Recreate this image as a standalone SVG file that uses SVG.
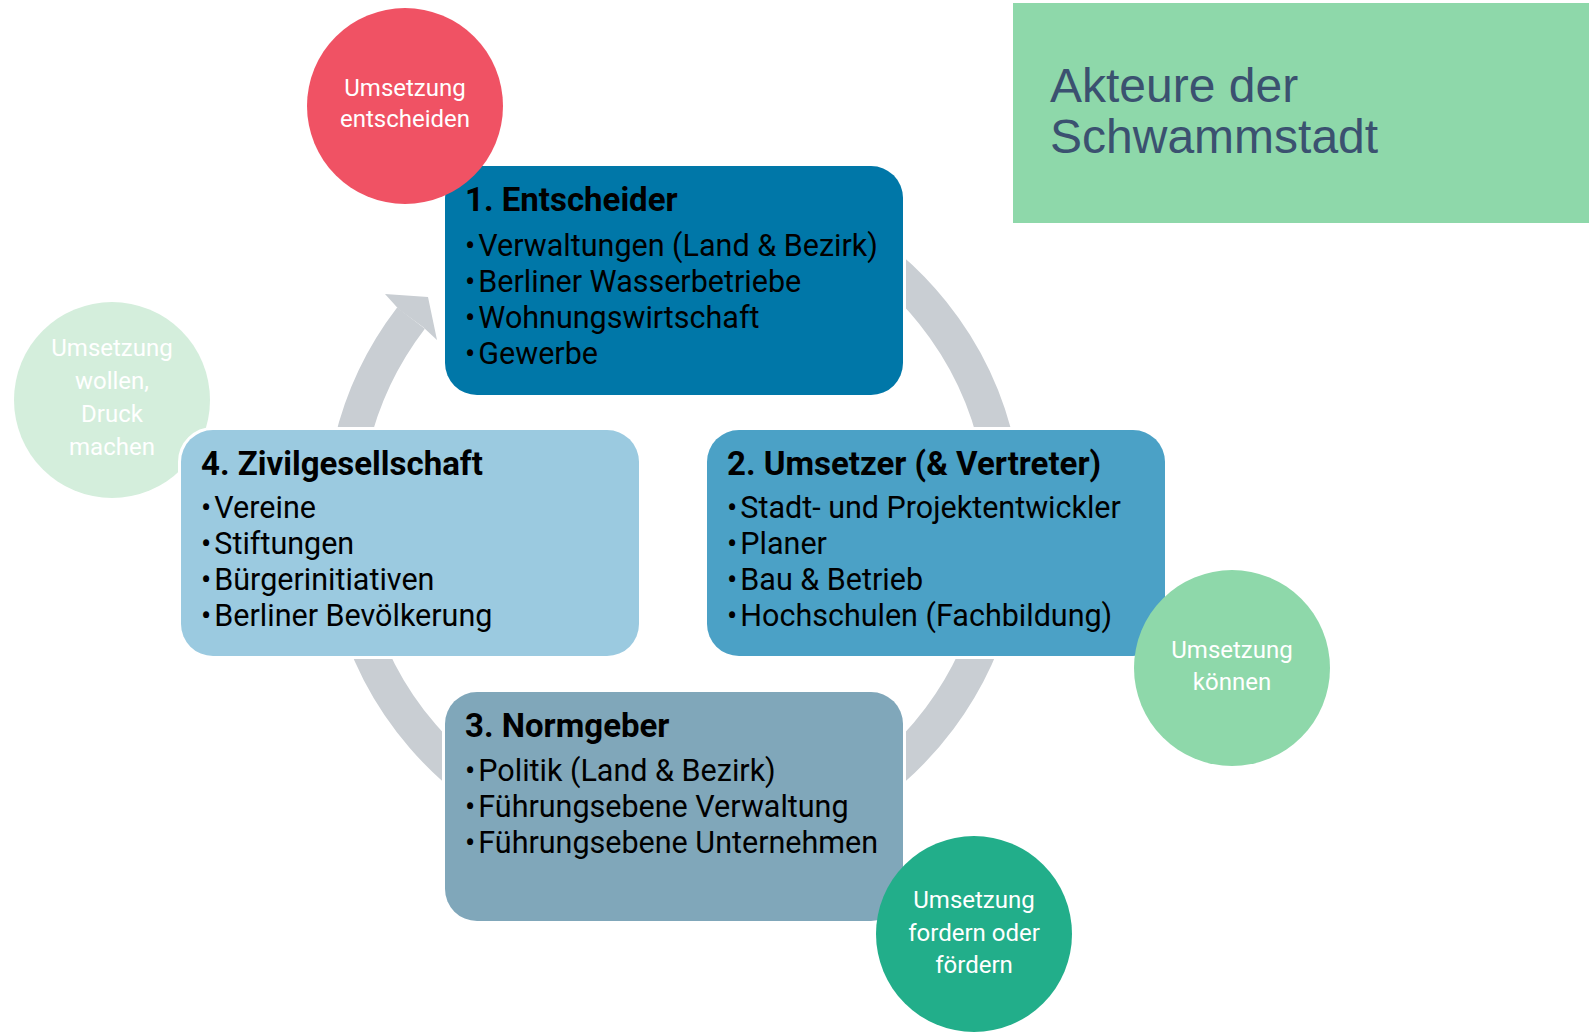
<svg xmlns="http://www.w3.org/2000/svg" width="1595" height="1034" viewBox="0 0 1595 1034">
<style>
.box{stroke:#fff;stroke-width:6;paint-order:stroke}
.t{font-family:Roboto,"Liberation Sans",sans-serif;fill:#000}
.h{font-size:33px;font-weight:700}
.i{font-size:30.5px}
.c{font-family:Roboto,"Liberation Sans",sans-serif;font-size:24px;fill:#fff;text-anchor:middle}
.ring{fill:none;stroke:#C9CED3;stroke-width:35}
</style>
<rect width="1595" height="1034" fill="#fff"/>
<g id="connectors">
<path class="ring" d="M 674 188.5 A 331.5 331.5 0 1 1 411.0 318.2"/>
<polygon points="399,309.5 385,294 428,297 437,340 423,327" fill="#C9CED3"/>
</g>
<g id="title">
<rect x="1013" y="3" width="576" height="220" fill="#8ED8AA"/>
<text font-family="'Liberation Sans',Arial,sans-serif" font-size="48" fill="#3B5170"><tspan x="1050" y="102">Akteure der</tspan><tspan x="1050" y="153">Schwammstadt</tspan></text>
</g>
<g id="circle-wollen">
<circle cx="112" cy="400" r="98" fill="#D4EEDC"/>
<text class="c"><tspan x="112" y="356">Umsetzung</tspan><tspan x="112" y="389">wollen,</tspan><tspan x="112" y="422">Druck</tspan><tspan x="112" y="455">machen</tspan></text>
</g>
<g id="box-entscheider">
<rect class="box" x="445" y="166" width="458" height="229" rx="32" fill="#0077A8"/>
<text class="t h" x="465" y="211">1. Entscheider</text>
<text class="t i"><tspan x="465" y="256">•</tspan><tspan dx="3">Verwaltungen (Land &amp; Bezirk)</tspan><tspan x="465" y="292">•</tspan><tspan dx="3">Berliner Wasserbetriebe</tspan><tspan x="465" y="328">•</tspan><tspan dx="3">Wohnungswirtschaft</tspan><tspan x="465" y="364">•</tspan><tspan dx="3">Gewerbe</tspan></text>
</g>
<g id="box-zivilgesellschaft">
<rect class="box" x="181" y="430" width="458" height="226" rx="32" fill="#9BCAE0"/>
<text class="t h" x="201" y="475">4. Zivilgesellschaft</text>
<text class="t i"><tspan x="201" y="518">•</tspan><tspan dx="3">Vereine</tspan><tspan x="201" y="554">•</tspan><tspan dx="3">Stiftungen</tspan><tspan x="201" y="590">•</tspan><tspan dx="3">Bürgerinitiativen</tspan><tspan x="201" y="626">•</tspan><tspan dx="3">Berliner Bevölkerung</tspan></text>
</g>
<g id="box-umsetzer">
<rect class="box" x="707" y="430" width="458" height="226" rx="32" fill="#4BA1C6"/>
<text class="t h" x="727" y="475">2. Umsetzer (&amp; Vertreter)</text>
<text class="t i"><tspan x="727" y="518">•</tspan><tspan dx="3">Stadt- und Projektentwickler</tspan><tspan x="727" y="554">•</tspan><tspan dx="3">Planer</tspan><tspan x="727" y="590">•</tspan><tspan dx="3">Bau &amp; Betrieb</tspan><tspan x="727" y="626">•</tspan><tspan dx="3">Hochschulen (Fachbildung)</tspan></text>
</g>
<g id="box-normgeber">
<rect class="box" x="445" y="692" width="458" height="229" rx="32" fill="#80A7BA"/>
<text class="t h" x="465" y="737">3. Normgeber</text>
<text class="t i"><tspan x="465" y="781">•</tspan><tspan dx="3">Politik (Land &amp; Bezirk)</tspan><tspan x="465" y="817">•</tspan><tspan dx="3">Führungsebene Verwaltung</tspan><tspan x="465" y="853">•</tspan><tspan dx="3">Führungsebene Unternehmen</tspan></text>
</g>
<g id="circle-entscheiden">
<circle cx="405" cy="106" r="98" fill="#F05264"/>
<text class="c"><tspan x="405" y="96">Umsetzung</tspan><tspan x="405" y="127">entscheiden</tspan></text>
</g>
<g id="circle-koennen">
<circle cx="1232" cy="668" r="98" fill="#8ED8AA"/>
<text class="c"><tspan x="1232" y="658">Umsetzung</tspan><tspan x="1232" y="690">können</tspan></text>
</g>
<g id="circle-fordern">
<circle cx="974" cy="934" r="98" fill="#22AE8A"/>
<text class="c"><tspan x="974" y="908">Umsetzung</tspan><tspan x="974" y="941">fordern oder</tspan><tspan x="974" y="973">fördern</tspan></text>
</g>
</svg>
